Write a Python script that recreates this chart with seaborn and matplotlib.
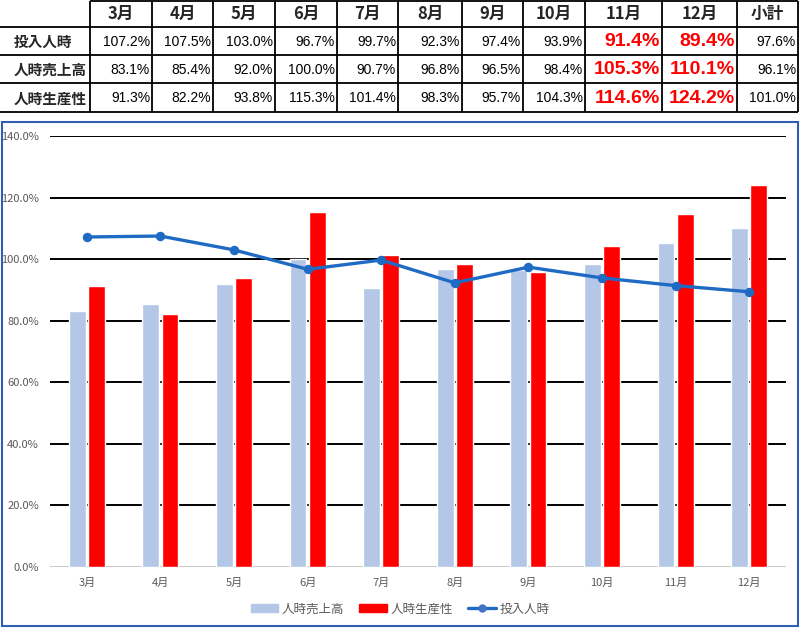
import matplotlib
matplotlib.use("Agg")
import matplotlib.pyplot as plt
import seaborn as sns
import pandas as pd
from matplotlib.patches import Rectangle, Patch
from matplotlib.lines import Line2D
from matplotlib.ticker import FuncFormatter

# ---------------- data ----------------
months = ["3月", "4月", "5月", "6月", "7月", "8月", "9月", "10月", "11月", "12月"]
input_hours = [107.2, 107.5, 103.0, 96.7, 99.7, 92.3, 97.4, 93.9, 91.4, 89.4]      # 投入人時
sales_per_hour = [83.1, 85.4, 92.0, 100.0, 90.7, 96.8, 96.5, 98.4, 105.3, 110.1]  # 人時売上高
productivity = [91.3, 82.2, 93.8, 115.3, 101.4, 98.3, 95.7, 104.3, 114.6, 124.2]  # 人時生産性
subtotal = [97.6, 96.1, 101.0]
row_labels = ["投入人時", "人時売上高", "人時生産性"]
header_total = "小計"
series_names = ["人時売上高", "人時生産性", "投入人時"]

sns.set_theme(style="white")
plt.rcParams["font.family"] = ["Noto Sans CJK JP", "DejaVu Sans"]

W, H = 800, 628
fig = plt.figure(figsize=(W / 100, H / 100), dpi=100)

# ---------------- table (top) ----------------
tax = fig.add_axes([0, 1 - 113 / H, 1, 113 / H])
tax.set_xlim(0, W)
tax.set_ylim(113, 0)
tax.axis("off")
col_edges = [0, 90, 152, 213, 275, 337, 398, 462, 523, 585, 662, 737, 798]
row_edges = [1, 27, 55, 83, 112]
for y in row_edges:
    tax.plot([0 if y != 1 else 90, 798], [y, y], color="black", lw=1.3, solid_capstyle="butt")
for x in col_edges[1:]:
    tax.plot([x, x], [1, 112], color="black", lw=1.3, solid_capstyle="butt")

num_font = ["Liberation Sans", "DejaVu Sans"]
headers = months + [header_total]
for i, h in enumerate(headers):
    cx = (col_edges[i + 1] + col_edges[i + 2]) / 2
    tax.text(cx, 14, h, ha="center", va="center", fontsize=12, fontweight="bold")
rows = [input_hours, sales_per_hour, productivity]
for r, (lab, vals) in enumerate(zip(row_labels, rows)):
    cy = (row_edges[r + 1] + row_edges[r + 2]) / 2 + 1
    tax.text(14, cy, lab, ha="left", va="center", fontsize=10.5, fontweight="bold")
    allvals = list(vals) + [subtotal[r]]
    for i, v in enumerate(allvals):
        right = col_edges[i + 2] - 2
        big = i in (8, 9)
        tax.text(right, cy, f"{v:.1f}%", ha="right", va="center",
                 fontsize=14 if big else 10,
                 fontweight="bold" if big else "normal",
                 color="#FF0000" if big else "black", family=num_font)

# ---------------- chart ----------------
fig.patches.append(Rectangle((2 / W, 2 / H), 796 / W, (626 - 122) / H, transform=fig.transFigure,
                             fill=False, edgecolor="#2F5FB3", lw=1.5))
ax = fig.add_axes([50 / W, 1 - 567 / H, (786 - 50) / W, (567 - 136) / H])

df = pd.DataFrame({
    "month": months * 2,
    "value": sales_per_hour + productivity,
    "series": [series_names[0]] * len(months) + [series_names[1]] * len(months),
})
sns.barplot(data=df, x="month", y="value", hue="series", order=months,
            hue_order=series_names[:2], palette=["#B4C7E7", "#FF0000"],
            width=0.52, gap=0.12, ax=ax, legend=False, saturation=1)
sns.pointplot(x=months, y=input_hours, order=months, color="#1F6BC4", markers="o",
              linestyles="-", markersize=5, linewidth=2.4, ax=ax, errorbar=None)
for coll in ax.collections:
    coll.set_facecolor("#4472C4")
    coll.set_edgecolor("#4472C4")

ax.set_xlim(-0.5, 9.5)
ax.set_ylim(0, 140)
ax.set_yticks(range(0, 141, 20))
ax.yaxis.set_major_formatter(FuncFormatter(lambda v, p: f"{v:.1f}%"))
for y in range(20, 141, 20):
    ax.axhline(y, color="black", lw=1.4, zorder=0.5)
ax.axhline(0, color="#BFBFBF", lw=1.2, zorder=0.5)
for s in ax.spines.values():
    s.set_visible(False)
ax.set_xlabel("")
ax.set_ylabel("")
ax.tick_params(axis="both", length=0, labelsize=8, labelcolor="#595959")
ax.tick_params(axis="x", pad=8)
ax.tick_params(axis="y", pad=8)

handles = [Patch(color="#B4C7E7"), Patch(color="#FF0000"),
           Line2D([], [], color="#1F6BC4", lw=2.4, marker="o", markersize=5,
                  markerfacecolor="#4472C4", markeredgecolor="#4472C4")]
fig.legend(handles, series_names, loc="center", bbox_to_anchor=(0.5, 1 - 609 / H), ncol=3,
           frameon=False, fontsize=9, labelcolor="#595959", handlelength=2.2,
           handleheight=0.6, columnspacing=1.2, handletextpad=0.3)

fig.savefig("out.png", dpi=100)
